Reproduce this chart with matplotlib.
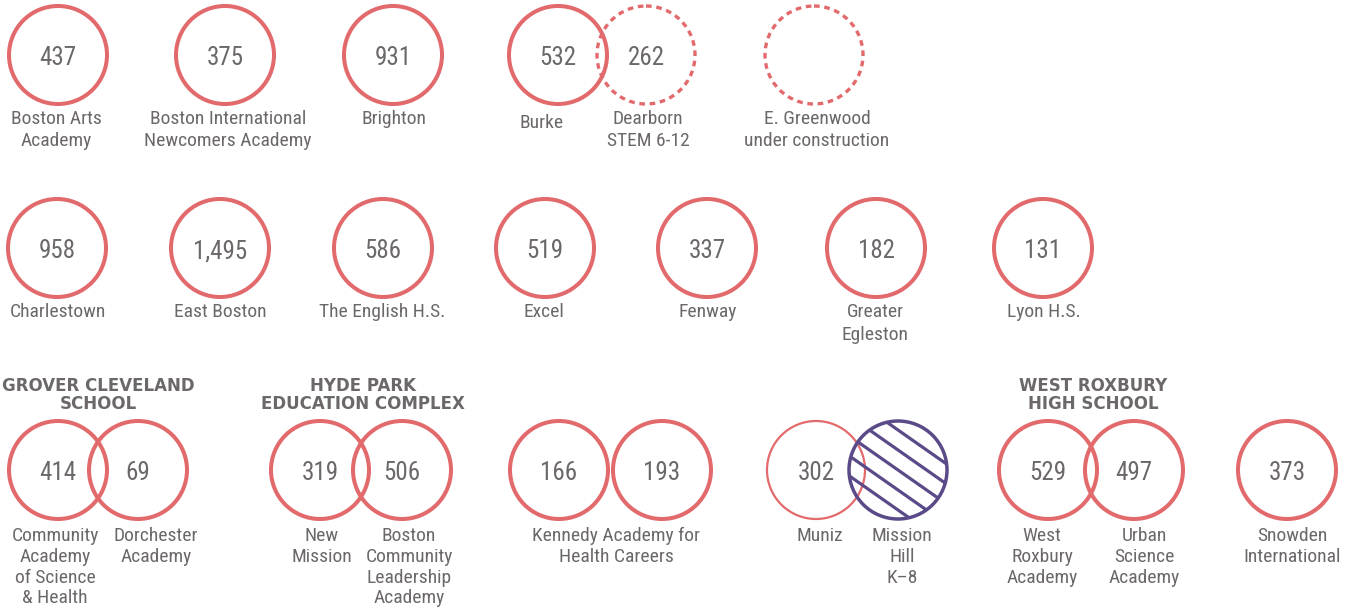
import numpy as np
import matplotlib

matplotlib.use("Agg")
import matplotlib.pyplot as plt
from matplotlib.patches import Circle

# --- data --------------------------------------------------------------
row1_names = [
    "Boston Arts\nAcademy",
    "Boston International\nNewcomers Academy",
    "Brighton",
    "Burke",
    "Dearborn\nSTEM 6-12",
    "E. Greenwood\nunder construction",
]
row1_values = [437, 375, 931, 532, 262, None]

row2_names = [
    "Charlestown",
    "East Boston",
    "The English H.S.",
    "Excel",
    "Fenway",
    "Greater\nEgleston",
    "Lyon H.S.",
]
row2_values = [958, 1495, 586, 519, 337, 182, 131]

row3_names = [
    "Community\nAcademy\nof Science\n& Health",
    "Dorchester\nAcademy",
    "New\nMission",
    "Boston\nCommunity\nLeadership\nAcademy",
    "Kennedy Academy for\nHealth Careers",
    "",
    "Muniz",
    "Mission\nHill\nK\u20138",
    "West\nRoxbury\nAcademy",
    "Urban\nScience\nAcademy",
    "Snowden\nInternational",
]
row3_values = [414, 69, 319, 506, 166, 193, 302, None, 529, 497, 373]

group_titles = [
    "GROVER CLEVELAND\nSCHOOL",
    "HYDE PARK\nEDUCATION COMPLEX",
    "WEST ROXBURY\nHIGH SCHOOL",
]

# --- layout (pixels) ---------------------------------------------------
row1_x = [58, 225, 393, 558, 646, 814]
row1_label_x = [56, 228, 394, 542, 648, 817]
row1_label_dy = [0, 0, 0, 4, 0, 0]
row1_style = ["solid", "solid", "solid", "solid", "dashed", "dashed"]

row2_x = [57, 220, 383, 545, 707, 876, 1043]
row2_label_x = [58, 220, 382, 544, 708, 875, 1044]
row2_label_dy = [0] * 7
row2_style = ["solid"] * 7

row3_x = [58, 138, 320, 402, 559, 662, 816, 898, 1048, 1134, 1287]
row3_label_x = [55, 156, 322, 409, 616, 662, 820, 902, 1042, 1144, 1292]
row3_label_dy = [2] * 11
row3_style = ["solid", "solid", "solid", "solid", "solid", "solid",
              "thin", "hatched", "solid", "solid", "solid"]

title_x = [98, 363, 1093]
title_y = 395

rows = [
    (row1_names, row1_values, row1_x, row1_label_x, row1_label_dy, row1_style, 55, 1.26),
    (row2_names, row2_values, row2_x, row2_label_x, row2_label_dy, row2_style, 248, 1.34),
    (row3_names, row3_values, row3_x, row3_label_x, row3_label_dy, row3_style, 470, 1.2),
]

RADIUS = 49
RED = "#e26a6c"
PURPLE = "#5b4a88"
GRAY = "#6c6869"
FONT = ["Roboto Condensed", "DejaVu Sans"]

fig = plt.figure(figsize=(13.49, 6.11), dpi=100)
ax = fig.add_axes([0, 0, 1, 1])
ax.set_xlim(0, 1349)
ax.set_ylim(611, 0)
ax.axis("off")


def draw_circle(cx, cy, style):
    if style == "dashed":
        ax.add_patch(Circle((cx, cy), RADIUS, fill=False, ec=RED, lw=2.4,
                            linestyle=(0, (1.7, 1.4))))
    elif style == "thin":
        ax.add_patch(Circle((cx, cy), RADIUS, fill=False, ec=RED, lw=1.6))
    elif style == "hatched":
        clip = Circle((cx, cy), RADIUS, fill=False, ec="none")
        ax.add_patch(clip)
        dx, dy = np.cos(np.radians(35)), np.sin(np.radians(35))
        for k in range(-2, 3):
            off = k * 20
            xs = np.array([cx - 80 * dx, cx + 80 * dx])
            ys = np.array([cy + off - 80 * dy, cy + off + 80 * dy])
            (ln,) = ax.plot(xs, ys, color=PURPLE, lw=2.3, solid_capstyle="butt")
            ln.set_clip_path(clip)
        ax.add_patch(Circle((cx, cy), RADIUS, fill=False, ec=PURPLE, lw=2.5))
    else:
        ax.add_patch(Circle((cx, cy), RADIUS, fill=False, ec=RED, lw=2.9))


for names, values, xs, label_xs, label_dys, styles, cy, spacing in rows:
    for name, value, cx, lx, ldy, style in zip(names, values, xs, label_xs,
                                               label_dys, styles):
        draw_circle(cx, cy, style)
        if value is not None:
            ax.text(cx, cy + 3, f"{value:,}", ha="center", va="center",
                    fontsize=18, color=GRAY, family=FONT)
        if name:
            ax.text(lx, cy + RADIUS + 6 + ldy, name, ha="center", va="top",
                    fontsize=14, color=GRAY, family=FONT, linespacing=spacing)

for title, tx in zip(group_titles, title_x):
    ax.text(tx, title_y, title, ha="center", va="center", fontsize=12,
            fontweight="bold", color=GRAY, family="DejaVu Sans",
            linespacing=1.0)

fig.savefig("out.png", dpi=100)
